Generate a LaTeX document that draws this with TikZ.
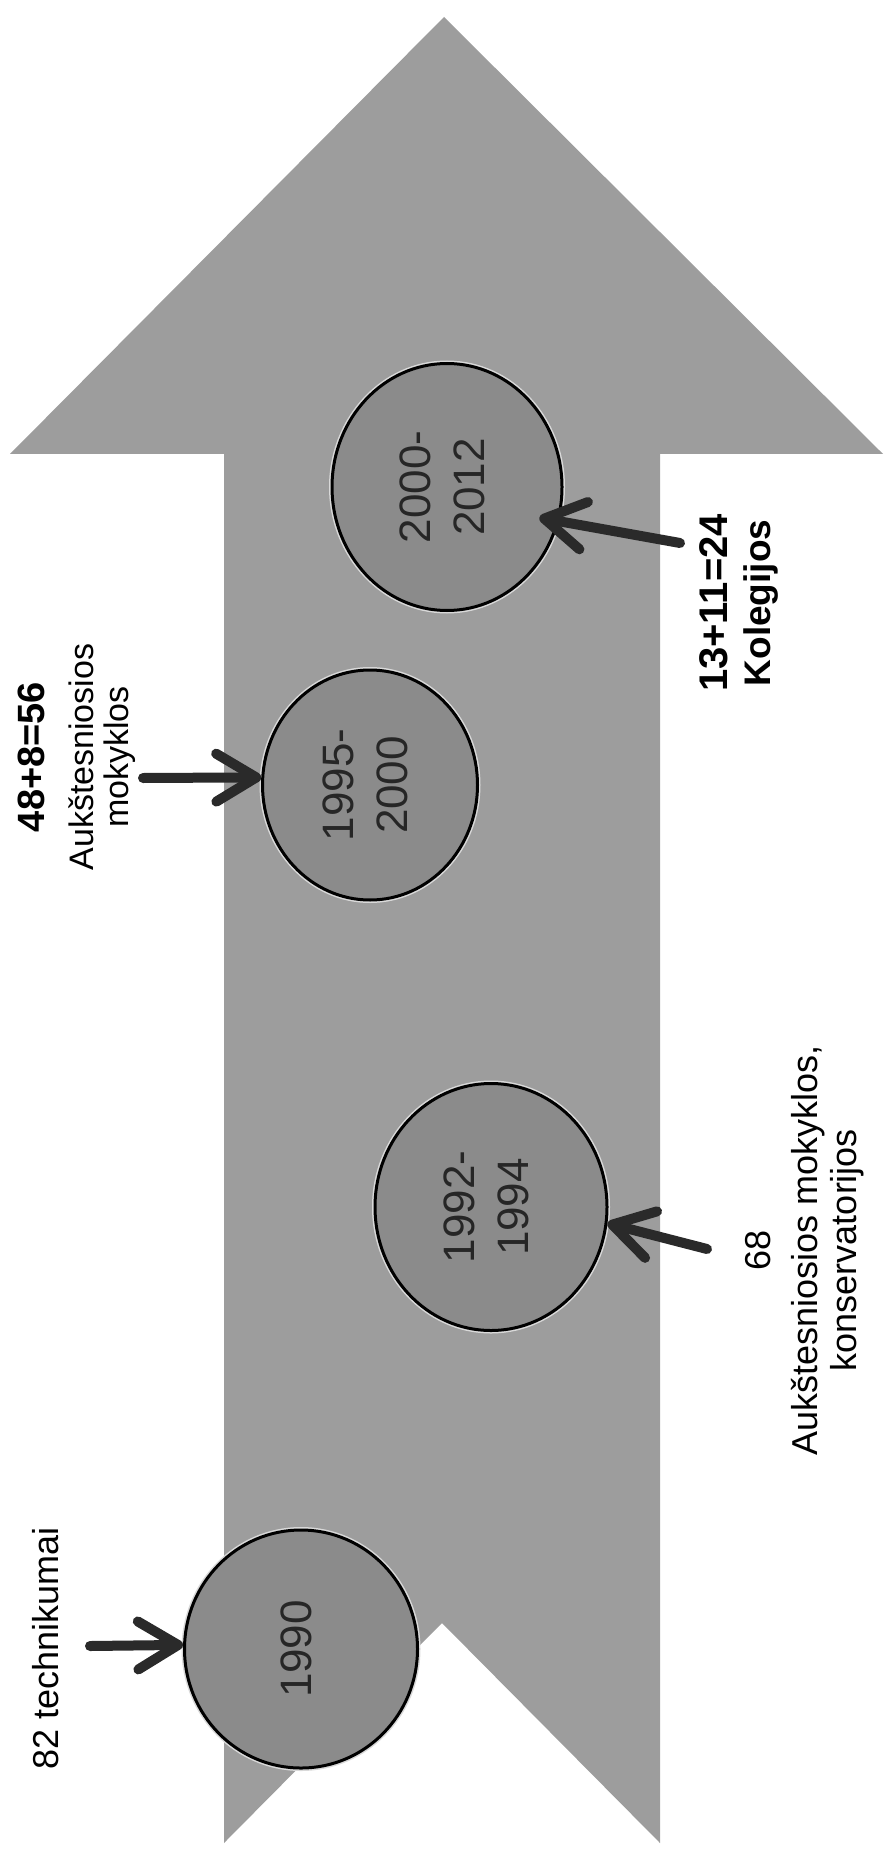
\documentclass[tikz,border=0pt]{standalone}
\usepackage{fontspec}
\setmainfont{Liberation Sans}
\usepackage{graphicx}
\usetikzlibrary{arrows.meta}
\usetikzlibrary{shapes.geometric}
\definecolor{shaftgray}{RGB}{157,157,157}
\definecolor{discgray}{RGB}{139,139,139}
\definecolor{ink}{RGB}{42,42,42}
\tikzset{year/.style={ellipse, draw=black, line width=1.5pt, fill=discgray,
   preaction={draw=white!70!gray, line width=3pt}, inner sep=0pt,
   font=\fontsize{22}{27}\selectfont, text=black!85}}
\tikzset{lbl/.style={rotate=90, align=center, font=\fontsize{18}{19.5}\selectfont}}
\tikzset{ptr/.style={->, draw=ink, line width=5pt, line cap=round}}

\begin{document}
\begin{tikzpicture}[x=0.5pt,y=-0.5pt,>={Straight Barb[length=20pt,width=24pt,round]}]
   \useasboundingbox (0,0) rectangle (890,1855);
   \fill[shaftgray] (444,17) -- (883,454) -- (660,454) -- (660,1843) -- (442,1623)
      -- (224,1843) -- (224,454) -- (10,454) -- cycle;

   \node[year, minimum width=116.5pt, minimum height=119pt] (C90) at (301,1649)
      {\rotatebox{90}{\begin{tabular}{c}1990\end{tabular}}};
   \node[year, minimum width=116pt, minimum height=123.5pt] (C92) at (491,1207)
      {\rotatebox{90}{\begin{tabular}{c}1992-\\1994\end{tabular}}};
   \node[year, minimum width=107.5pt, minimum height=115pt] (C95) at (370,785)
      {\rotatebox{90}{\begin{tabular}{c}1995-\\2000\end{tabular}}};
   \node[year, minimum width=115pt, minimum height=123.5pt] (C00) at (447,487)
      {\rotatebox{90}{\begin{tabular}{c}2000-\\2012\end{tabular}}};

   \node[lbl] (L90) at (46,1648) {82 technikumai};
   \node[lbl] (L92) at (805,1250) {68\\[4pt]Aukštesniosios mokyklos,\\konservatorijos};
   \node[lbl, font=\fontsize{17}{17.5}\selectfont] (L95) at (77,757)
      {{\fontsize{19}{20}\selectfont\bfseries 48+8=56}\\[7pt]Aukštesniosios\\mokyklos};
   \node[lbl, font=\fontsize{18.5}{21.5}\selectfont\bfseries] (L00) at (739,603)
      {{\fontsize{20}{21}\selectfont 13+11=24}\\Kolegijos};

   \coordinate (P90) at (90,1646);
   \coordinate (P92) at (707,1249);
   \coordinate (P95) at (143,778);
   \coordinate (P00) at (680,543);

   \path
      (P90) edge [ptr] (C90.178)
      (P92) edge [ptr] (C92.-8)
      (P95) edge [ptr] (C95.176)
      (P00) edge [ptr, shorten >=-10pt] (C00.-17)
   ;
\end{tikzpicture}
\end{document}
